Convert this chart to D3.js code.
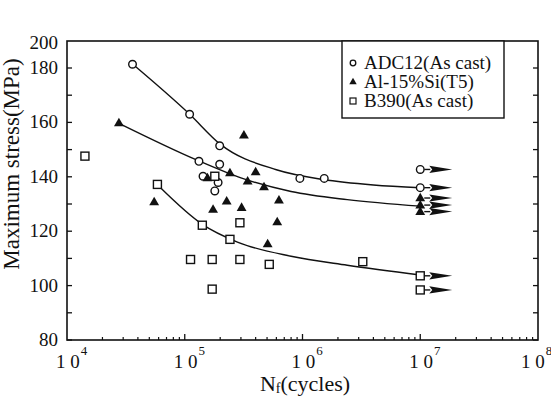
<!DOCTYPE html>
<html><head><meta charset="utf-8">
<script src="https://cdn.jsdelivr.net/npm/d3@7"></script>
<style>body{margin:0;background:#fff}svg{display:block}svg text{font-family:"Liberation Serif","Times New Roman",Times,serif}</style>
</head><body><svg id="c" width="551" height="403"></svg>
<script>
// ---- data ----
const seriesNames = ["ADC12(As cast)", "Al-15%Si(T5)", "B390(As cast)"];
const adc12N = [3.6e4, 1.1e5, 1.32e5, 1.98e5, 1.98e5, 1.43e5, 1.92e5, 1.8e5, 9.5e5, 1.53e6, 1e7, 1e7];
const adc12S = [183, 163, 145.7, 151.4, 144.6, 140.2, 137.9, 134.8, 139.4, 139.4, 142.7, 136];
const adc12Runout = [0,0,0,0,0,0,0,0,0,0,1,1];
const alsiN = [2.76e4, 3.18e5, 1.56e5, 2.42e5, 4.0e5, 3.42e5, 4.71e5, 6.31e5, 5.5e4, 2.27e5, 1.74e5, 3.04e5, 6.1e5, 5.06e5, 1e7, 1e7, 1e7];
const alsiS = [159.8, 155.3, 139.6, 141.4, 141.8, 138.4, 136.3, 131.4, 130.8, 131.0, 128.0, 128.7, 123.4, 115.3, 132.2, 129.6, 127.2];
const alsiRunout = [0,0,0,0,0,0,0,0,0,0,0,0,0,0,1,1,1];
const b390N = [1.42e4, 5.86e4, 1.8e5, 1.41e5, 2.42e5, 2.94e5, 1.12e5, 1.71e5, 2.94e5, 5.22e5, 1.71e5, 3.25e6, 1e7, 1e7];
const b390S = [147.6, 137.2, 140.2, 122.2, 117.0, 123.1, 109.6, 109.6, 109.6, 107.8, 98.7, 108.8, 103.6, 98.4];
const b390Runout = [0,0,0,0,0,0,0,0,0,0,0,0,1,1];
// fitted curves
const adc12FitN = [3.6e4, 1.1e5, 2.0e5, 6.0e5, 1.5e6, 4e6, 1e7];
const adc12FitS = [183.2, 163.0, 152.0, 142.6, 139.0, 137.0, 136.0];
const alsiFitN = [2.9e4, 1.26e5, 3.0e5, 8.0e5, 2.4e6, 1e7];
const alsiFitS = [159.2, 146.2, 139.6, 134.6, 131.6, 129.2];
const b390FitN = [6.1e4, 1.41e5, 2.8e5, 8.0e5, 2.4e6, 1e7];
const b390FitS = [136.3, 122.5, 116.0, 110.8, 107.5, 103.9];
const yTickValues = [80, 100, 120, 140, 160, 180, 200];
const yMinorValues = [90, 110, 130, 150, 170];
const xDecades = [4, 5, 6, 7, 8];

// ---- layout ----
const FONT = "'Liberation Serif', 'Times New Roman', Times, serif";
const svg = d3.select("#c");
const L = 67, R = 538, T = 41, B = 340;
const x = d3.scaleLog().domain([1e4, 1e8]).range([L, R]);
const y = d3.scaleLinear().domain([80, 180, 200]).range([B, 68, 43]);
const ink = "#111";
function txt(sel) { return sel.append("text").style("font-family", FONT).attr("fill", ink); }

svg.append("rect").attr("x", L).attr("y", T).attr("width", R - L).attr("height", B - T)
  .attr("fill", "none").attr("stroke", ink).attr("stroke-width", 1.6);

const yAll = yTickValues.filter(v => v < 200).concat(yMinorValues);
yAll.forEach(v => {
  svg.append("line").attr("x1", L).attr("x2", L + 5).attr("y1", y(v)).attr("y2", y(v)).attr("stroke", ink).attr("stroke-width", 1.3);
  svg.append("line").attr("x1", R).attr("x2", R - 5).attr("y1", y(v)).attr("y2", y(v)).attr("stroke", ink).attr("stroke-width", 1.3);
});
yTickValues.forEach(v => {
  txt(svg).attr("x", L - 9).attr("y", y(v) + 6).attr("text-anchor", "end")
    .attr("font-size", 19).text(v);
});

xDecades.forEach((d, i) => {
  const xv = Math.pow(10, d);
  if (i > 0 && i < xDecades.length - 1)
    svg.append("line").attr("x1", x(xv)).attr("x2", x(xv)).attr("y1", B).attr("y2", B - 6).attr("stroke", ink).attr("stroke-width", 1.3);
  if (i < xDecades.length - 1) {
    for (let k = 2; k <= 9; k++) {
      const xm = k * xv;
      svg.append("line").attr("x1", x(xm)).attr("x2", x(xm)).attr("y1", B).attr("y2", B - 3).attr("stroke", ink).attr("stroke-width", 1.2);
    }
  }
  const shift = i === xDecades.length - 1 ? -6 : 0;
  const t = txt(svg).attr("x", x(xv) - 11 + shift).attr("y", 368).attr("font-size", 19);
  t.append("tspan").text("1 0");
  t.append("tspan").attr("font-size", 13).attr("dy", -13).attr("dx", 1).text(d);
});

const xt = txt(svg).attr("x", 305).attr("y", 391).attr("text-anchor", "middle").attr("font-size", 22);
xt.append("tspan").text("N");
xt.append("tspan").attr("font-size", 14).attr("dy", 2).text("f");
xt.append("tspan").attr("dy", -2).text("(cycles)");
txt(svg).attr("transform", "translate(19,164) rotate(-90)").attr("text-anchor", "middle")
  .attr("font-size", 23).text("Maximum stress(MPa)");

const line = d3.line().x(d => x(d[0])).y(d => y(d[1])).curve(d3.curveMonotoneX);
[[adc12FitN, adc12FitS], [alsiFitN, alsiFitS], [b390FitN, b390FitS]].forEach(([n, s]) => {
  svg.append("path").attr("d", line(n.map((v, i) => [v, s[i]])))
    .attr("fill", "none").attr("stroke", ink).attr("stroke-width", 1.4);
});

function marker(g, type, cx, cy) {
  if (type === 0) g.append("circle").attr("cx", cx).attr("cy", cy).attr("r", 3.8)
    .attr("fill", "#fff").attr("stroke", ink).attr("stroke-width", 1.4);
  else if (type === 1) g.append("path").attr("d", d3.symbol(d3.symbolTriangle, 42)())
    .attr("transform", `translate(${cx},${cy + 0.5})`).attr("fill", ink);
  else g.append("rect").attr("x", cx - 4).attr("y", cy - 4).attr("width", 8).attr("height", 8)
    .attr("fill", "#fff").attr("stroke", ink).attr("stroke-width", 1.4);
}
function arrow(g, cx, cy) {
  g.append("line").attr("x1", cx + 4).attr("x2", cx + 10).attr("y1", cy).attr("y2", cy).attr("stroke", ink).attr("stroke-width", 1.4);
  g.append("path").attr("d", `M${cx + 9},${cy - 3.6}L${cx + 32},${cy}L${cx + 9},${cy + 3.6}L${cx + 12},${cy}Z`).attr("fill", ink);
}
const gm = svg.append("g");
[[adc12N, adc12S, adc12Runout, 0], [alsiN, alsiS, alsiRunout, 1], [b390N, b390S, b390Runout, 2]].forEach(([n, s, r, t]) => {
  n.forEach((v, i) => {
    if (r[i]) arrow(gm, x(v), y(s[i]));
    marker(gm, t, x(v), y(s[i]));
  });
});

const lg = svg.append("g");
lg.append("rect").attr("x", 342).attr("y", 41).attr("width", 162).attr("height", 77)
  .attr("fill", "#fff").attr("stroke", ink).attr("stroke-width", 1.4);
seriesNames.forEach((name, i) => {
  const cy = 63 + i * 19;
  if (i === 0) lg.append("circle").attr("cx", 353).attr("cy", cy).attr("r", 2.8).attr("fill", "#fff").attr("stroke", ink).attr("stroke-width", 1.3);
  else if (i === 1) lg.append("path").attr("d", d3.symbol(d3.symbolTriangle, 24)()).attr("transform", `translate(353,${cy})`).attr("fill", ink);
  else lg.append("rect").attr("x", 350).attr("y", cy - 3).attr("width", 6).attr("height", 6).attr("fill", "#fff").attr("stroke", ink).attr("stroke-width", 1.2);
  txt(lg).attr("x", 364).attr("y", cy + 6).attr("font-size", 19).text(name);
});
</script></body></html>
